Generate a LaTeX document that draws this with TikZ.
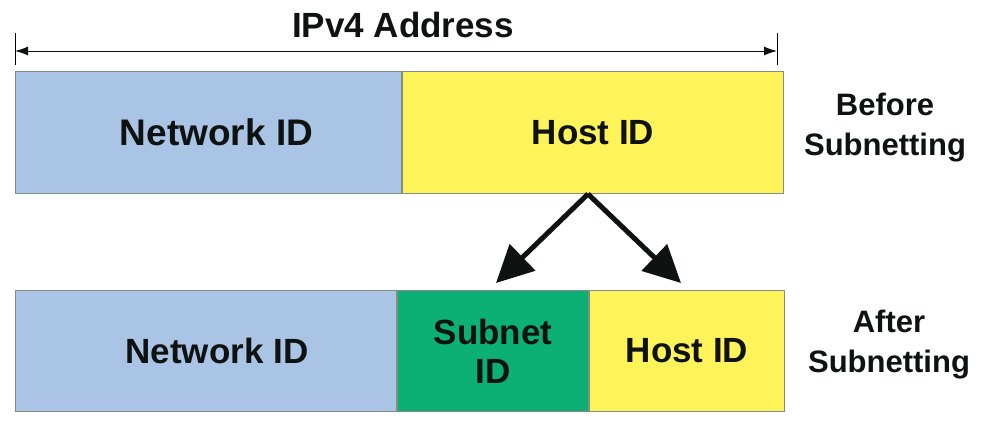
\documentclass[tikz,border=0pt]{standalone}
\usepackage{fontspec}
\setmainfont{Liberation Sans}
\usepackage{tikz}
\usetikzlibrary{arrows.meta,positioning}
\definecolor{netblue}{HTML}{AAC4E6}
\definecolor{hostyellow}{HTML}{FFF35A}
\definecolor{subgreen}{HTML}{0CAF74}
\definecolor{edgegray}{HTML}{858B85}
\definecolor{ink}{HTML}{0E1210}
\tikzstyle{field}=[rectangle,draw=edgegray,line width=1pt,inner sep=0pt,
text=ink,font=\fontsize{35}{39}\selectfont\bfseries,align=center]
\tikzstyle{network}=[field,fill=netblue]
\tikzstyle{host}=[field,fill=hostyellow]
\tikzstyle{subnet}=[field,fill=subgreen]
\tikzstyle{sidetext}=[text=ink,font=\fontsize{31}{40}\selectfont\bfseries,
align=center]
\tikzstyle{splitarrow}=[-{Triangle[length=37pt,width=36pt]},line width=5pt,
draw=ink]

\begin{document}
\begin{tikzpicture}[x=1pt,y=-1pt,>={Latex[length=13pt,width=9pt]}]
    \useasboundingbox (0,0) rectangle (984,429);
    % overall width of the address
    \coordinate (dim_l) at (15,51);
    \coordinate (dim_r) at (777,51);
    \draw[line width=1pt] ([yshift=18pt]dim_l) -- ([yshift=-14pt]dim_l);
    \draw[line width=1pt] ([yshift=18pt]dim_r) -- ([yshift=-14pt]dim_r);
    \draw[<->,line width=1pt,draw=ink] (dim_l) -- (dim_r);
    \node (title) [text=ink,font=\fontsize{35}{39}\selectfont\bfseries]
      at (403,25) {IPv4 Address};
    % first line: before subnetting
    \node (net_b) [network,anchor=north west,minimum width=386pt,
      minimum height=122pt,font=\fontsize{37}{41}\selectfont\bfseries]
      at (15,71) {\hspace*{16pt}Network ID};
    \node (host_b) [host,right=0pt of net_b,minimum width=381pt,
      minimum height=122pt] {Host ID};
    \node (before) [sidetext] at (885,128) {Before\\Subnetting};
    % second line: after subnetting
    \node (net_a) [network,anchor=north west,minimum width=381pt,
      minimum height=121pt] at (15,290) {\hspace*{22pt}Network ID};
    \node (subnet_a) [subnet,right=0pt of net_a,minimum width=191pt,
      minimum height=121pt] {Subnet\\ID};
    \node (host_a) [host,right=0pt of subnet_a,minimum width=195pt,
      minimum height=121pt] {Host ID};
    \node (after) [sidetext] at (889,345) {After\\Subnetting};
    % the host part is split in two
    \coordinate (split) at ([xshift=-5pt]host_b.south);
    \draw[splitarrow] (split) -- ([xshift=3pt,yshift=7pt]subnet_a.north);
    \draw[splitarrow] (split) -- ([xshift=-6pt,yshift=7pt]host_a.north);
  \end{tikzpicture}
\end{document}
